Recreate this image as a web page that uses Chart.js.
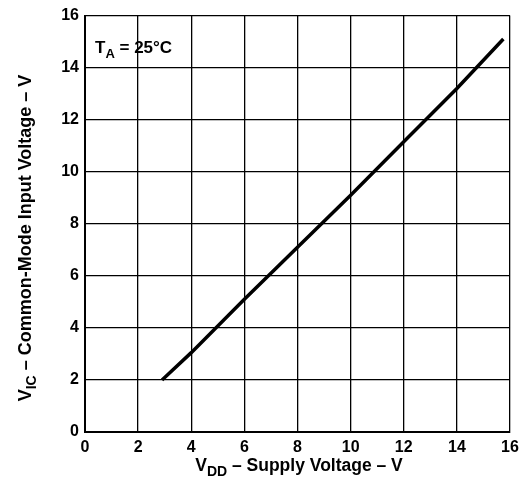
<!DOCTYPE html>
<html>
<head>
<meta charset="utf-8">
<script src="https://cdn.jsdelivr.net/npm/chart.js@4"></script>
<style>
  html, body { margin: 0; padding: 0; background: #fff; }
  #wrap { width: 528px; height: 484px; }
</style>
</head>
<body>
<div id="wrap"><canvas id="vic-chart" width="528" height="484"></canvas></div>
<script>
// supply voltage (V) and common-mode input voltage (V)
const vddValues = [2.9, 4, 6, 8, 10, 12, 14, 15.75];
const vicValues = [2.0, 3.05, 5.1, 7.1, 9.1, 11.15, 13.2, 15.1];
const tickValues = [0, 2, 4, 6, 8, 10, 12, 14, 16];

const FONT = '"Liberation Sans", Arial, Helvetica, sans-serif';

// draw a run of text pieces, some of them subscripts, centred on x
function drawParts(ctx, parts, x, y, size) {
    const subSize = Math.round(size * 0.8);
    let total = 0;
    parts.forEach(p => {
        ctx.font = 'bold ' + (p.sub ? subSize : size) + 'px ' + FONT;
        p.w = ctx.measureText(p.text).width;
        total += p.w;
    });
    let cx = x - total / 2;
    parts.forEach(p => {
        ctx.font = 'bold ' + (p.sub ? subSize : size) + 'px ' + FONT;
        ctx.fillText(p.text, cx, p.sub ? y + size * 0.3 : y);
        cx += p.w;
    });
}

const labelsPlugin = {
    id: 'labels',
    afterDraw(chart) {
        const ctx = chart.ctx;
        ctx.save();
        ctx.fillStyle = '#000';
        ctx.textBaseline = 'alphabetic';
        ctx.textAlign = 'left';

        // x axis title
        drawParts(ctx, [
            { text: 'V' }, { text: 'DD', sub: true }, { text: ' – Supply Voltage – V' }
        ], 299, 471, 17.5);

        // y axis title
        ctx.save();
        ctx.translate(31, 238);
        ctx.rotate(-Math.PI / 2);
        drawParts(ctx, [
            { text: 'V' }, { text: 'IC', sub: true }, { text: ' – Common-Mode Input Voltage – V' }
        ], 0, 0, 18);
        ctx.restore();

        // temperature note
        const a = chart.chartArea;
        ctx.font = 'bold 17px ' + FONT;
        let x = a.left + 10;
        const y = a.top + 37;
        ctx.fillText('T', x, y);
        x += ctx.measureText('T').width;
        ctx.font = 'bold 13px ' + FONT;
        ctx.fillText('A', x, y + 5);
        x += ctx.measureText('A').width;
        ctx.font = 'bold 17px ' + FONT;
        ctx.fillText(' = 25°C', x, y);
        ctx.restore();
    }
};

const axisStyle = {
    type: 'linear',
    min: 0,
    max: 16,
    border: { display: true, color: '#000', width: 2 },
    grid: { color: '#000', lineWidth: 1.3, drawTicks: false },
    ticks: {
        stepSize: 2,
        color: '#000',
        font: { family: FONT, size: 16, weight: 'bold' },
        callback: v => tickValues.includes(v) ? String(v) : ''
    }
};

new Chart(document.getElementById('vic-chart').getContext('2d'), {
    type: 'line',
    data: {
        datasets: [{
            data: vddValues.map((v, i) => ({ x: v, y: vicValues[i] })),
            borderColor: '#000',
            borderWidth: 3.5,
            pointRadius: 0,
            fill: false,
            tension: 0
        }]
    },
    options: {
        responsive: false,
        animation: false,
        devicePixelRatio: 1,
        layout: { padding: { top: 8, right: 18, left: 0, bottom: 0 } },
        plugins: { legend: { display: false }, tooltip: { enabled: false } },
        scales: {
            x: Object.assign({}, axisStyle, {
                ticks: Object.assign({}, axisStyle.ticks, { padding: 6, maxRotation: 0 }),
                afterFit: s => { s.height = 52; }
            }),
            y: Object.assign({}, axisStyle, {
                ticks: Object.assign({}, axisStyle.ticks, { padding: 6 }),
                afterFit: s => { s.width = 85; }
            })
        }
    },
    plugins: [labelsPlugin]
});
</script>
</body>
</html>
